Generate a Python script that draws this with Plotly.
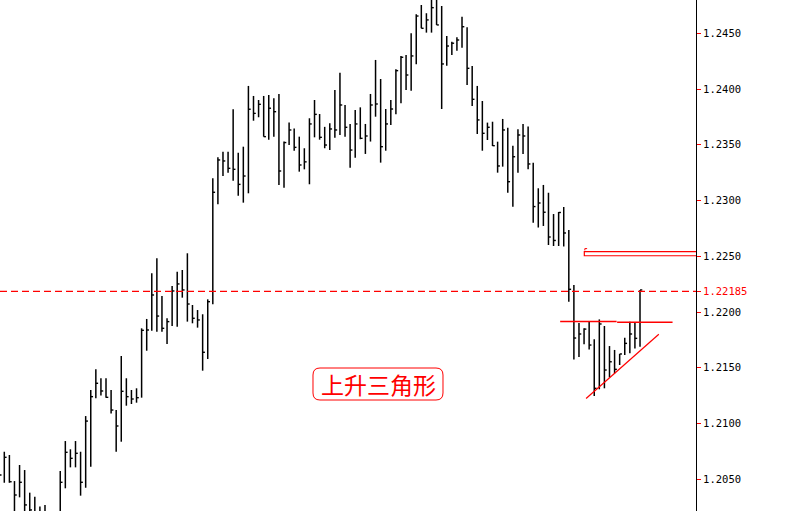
import plotly.graph_objects as go

# ---------------- data ----------------
bar_index = list(range(-1, 126))

highs = [1.20655,
 1.20747, 1.20718, 1.20484, 1.20628, 1.20583, 1.20380, 1.20344, 1.20255, 1.20270, 1.20180,
 1.20198, 1.20574, 1.20843, 1.20769, 1.20843, 1.20747, 1.21067, 1.21301, 1.21486, 1.21406,
 1.21406, 1.21301, 1.21121, 1.21606, 1.21406, 1.21301, 1.21316, 1.21854, 1.21938, 1.22348,
 1.22482, 1.22144, 1.21944, 1.22234, 1.22362, 1.22377, 1.22527, 1.22063, 1.22018, 1.21980,
 1.22114, 1.23200, 1.23388, 1.23438, 1.23438, 1.23819, 1.23429, 1.23483, 1.24028, 1.23938,
 1.23902, 1.23938, 1.23947, 1.23917, 1.23956, 1.23529, 1.23700, 1.23646, 1.23573, 1.23469,
 1.23738, 1.23902, 1.23776, 1.23661, 1.23693, 1.23992, 1.24147, 1.23857, 1.23687, 1.23812,
 1.23836, 1.23687, 1.23956, 1.24261, 1.24090, 1.23821, 1.23902, 1.24177, 1.24297, 1.24306,
 1.24500, 1.24671, 1.24754, 1.24680, 1.24817, 1.24817, 1.24745, 1.24476, 1.24425, 1.24464,
 1.24649, 1.24554, 1.24207, 1.24028, 1.23893, 1.23699, 1.23707, 1.23528, 1.23732, 1.23654,
 1.23492, 1.23639, 1.23687, 1.23663, 1.23340, 1.23110, 1.23140, 1.23070, 1.22879, 1.22897,
 1.22942, 1.22736, 1.22242, 1.21901, 1.21854, 1.21913, 1.21755, 1.21934, 1.21875, 1.21695,
 1.21660, 1.21624, 1.21770, 1.21913, 1.21904, 1.22198]

lows = [1.20404,
 1.20469, 1.20469, 1.20180, 1.20338, 1.20180, 1.20136, 1.20136, 1.20091, 1.20091, 1.20046,
 1.20046, 1.20207, 1.20419, 1.20607, 1.20607, 1.20353, 1.20424, 1.20613, 1.21226, 1.21251,
 1.21232, 1.21090, 1.20747, 1.20837, 1.21160, 1.21175, 1.21187, 1.21232, 1.21653, 1.21833,
 1.21824, 1.21824, 1.21713, 1.21875, 1.21868, 1.22129, 1.21914, 1.21899, 1.21860, 1.21474,
 1.21579, 1.22069, 1.22966, 1.23220, 1.23250, 1.23178, 1.23043, 1.22981, 1.23065, 1.23716,
 1.23747, 1.23573, 1.23546, 1.23573, 1.23140, 1.23115, 1.23498, 1.23446, 1.23259, 1.23280,
 1.23146, 1.23567, 1.23546, 1.23469, 1.23453, 1.23563, 1.23588, 1.23573, 1.23295, 1.23384,
 1.23550, 1.23418, 1.23529, 1.23752, 1.23340, 1.23447, 1.23678, 1.23774, 1.23872, 1.23992,
 1.23985, 1.24222, 1.24545, 1.24506, 1.24506, 1.24575, 1.23821, 1.24210, 1.24306, 1.24344,
 1.24371, 1.24037, 1.23848, 1.23597, 1.23447, 1.23543, 1.23489, 1.23250, 1.23304, 1.23070,
 1.22945, 1.23250, 1.23418, 1.23280, 1.22801, 1.22758, 1.22772, 1.22601, 1.22592, 1.22592,
 1.22588, 1.22093, 1.21575, 1.21596, 1.21710, 1.21665, 1.21247, 1.21307, 1.21316, 1.21414,
 1.21450, 1.21525, 1.21615, 1.21630, 1.21674, 1.21689]

closes = [1.20538,
 1.20697, 1.20478, 1.20359, 1.20473, 1.20270, 1.20225, 1.20207, 1.20180, 1.20180, 1.20136,
 1.20136, 1.20473, 1.20742, 1.20688, 1.20733, 1.20473, 1.21022, 1.21241, 1.21361, 1.21292,
 1.21235, 1.21121, 1.20978, 1.21289, 1.21241, 1.21220, 1.21232, 1.21836, 1.21839, 1.22153,
 1.21964, 1.21854, 1.21914, 1.22189, 1.22252, 1.22198, 1.22072, 1.21944, 1.21929, 1.21639,
 1.22093, 1.23074, 1.23364, 1.23355, 1.23289, 1.23280, 1.23145, 1.23220, 1.23819, 1.23782,
 1.23863, 1.23573, 1.23828, 1.23797, 1.23265, 1.23520, 1.23633, 1.23477, 1.23319, 1.23347,
 1.23687, 1.23773, 1.23567, 1.23498, 1.23642, 1.23633, 1.23857, 1.23657, 1.23453, 1.23687,
 1.23558, 1.23579, 1.23857, 1.23866, 1.23483, 1.23687, 1.23821, 1.24165, 1.24285, 1.24126,
 1.24297, 1.24655, 1.24545, 1.24620, 1.24730, 1.24575, 1.24225, 1.24386, 1.24411, 1.24440,
 1.24559, 1.24186, 1.23908, 1.23723, 1.23603, 1.23657, 1.23492, 1.23310, 1.23633, 1.23169,
 1.23393, 1.23588, 1.23579, 1.23328, 1.22946, 1.22978, 1.22895, 1.22673, 1.22642, 1.22893,
 1.22709, 1.22204, 1.21767, 1.21803, 1.21847, 1.21704, 1.21316, 1.21893, 1.21480, 1.21554,
 1.21486, 1.21624, 1.21719, 1.21803, 1.21764, 1.22198]

price_ticks = [1.2050, 1.2100, 1.2150, 1.2200, 1.2250, 1.2300, 1.2350, 1.2400, 1.2450]
current_price = 1.22185

# analyst drawings (data coordinates: bar index, price)
resistance_1 = [(109.3, 1.21915), (120.4, 1.21915)]
resistance_2 = [(120.5, 1.21908), (131.4, 1.21908)]
support_line = [(114.4, 1.21224), (128.7, 1.21801)]
zone_box = (114.05, 1.22505, 1.22541)
label_text = "上升三角形"

# ---------------- figure ----------------
bx, by = [], []
for i, h, l in zip(bar_index, highs, lows):
    bx += [i, i, None]
    by += [l, h, None]
cx, cy = [], []
for i, c in zip(bar_index, closes):
    cx += [i, i + 0.45, None]
    cy += [c, c, None]

fig = go.Figure()
fig.add_trace(go.Scatter(x=bx, y=by, mode="lines", line=dict(color="black", width=1.5),
                         hoverinfo="skip", showlegend=False))
fig.add_trace(go.Scatter(x=cx, y=cy, mode="lines", line=dict(color="black", width=1.4),
                         hoverinfo="skip", showlegend=False))

X0, X1 = -0.8455, 136.01
Y0, Y1 = 1.202155, 1.247987

shapes = []
shapes.append(dict(type="line", xref="paper", yref="y", x0=0, x1=1, y0=current_price, y1=current_price,
                   line=dict(color="#ff0000", width=1.4, dash="7px,4px")))
for seg in (resistance_1, resistance_2):
    shapes.append(dict(type="line", xref="x", yref="y", x0=seg[0][0], y0=seg[0][1], x1=seg[1][0], y1=seg[1][1],
                       line=dict(color="red", width=1.4)))
shapes.append(dict(type="line", xref="x", yref="y", x0=support_line[0][0], y0=support_line[0][1],
                   x1=support_line[1][0], y1=support_line[1][1], line=dict(color="red", width=1.2)))
shapes.append(dict(type="rect", xref="x", yref="y", x0=zone_box[0], x1=X1 + 1, y0=zone_box[1], y1=zone_box[2],
                   line=dict(color="red", width=1.2), fillcolor="rgba(0,0,0,0)"))
# small marker above the box
shapes.append(dict(type="path", xref="x", yref="y",
                   path=f"M {zone_box[0]+0.1},{zone_box[2]+0.00012} L {zone_box[0]+0.1},{zone_box[2]+0.00028} L {zone_box[0]+0.55},{zone_box[2]+0.00028}",
                   line=dict(color="red", width=1)))

# rounded label box (paper coordinates of the 696x511 plot area)
W, H = 696.0, 511.0
def P(px, py):
    return f"{px / W:.5f},{1 - py / H:.5f}"
L_, R_, T_, B_, r = 313, 443, 368, 400, 7
path = (f"M {P(L_ + r, T_)} L {P(R_ - r, T_)} Q {P(R_, T_)} {P(R_, T_ + r)} "
        f"L {P(R_, B_ - r)} Q {P(R_, B_)} {P(R_ - r, B_)} L {P(L_ + r, B_)} "
        f"Q {P(L_, B_)} {P(L_, B_ - r)} L {P(L_, T_ + r)} Q {P(L_, T_)} {P(L_ + r, T_)} Z")
shapes.append(dict(type="path", xref="paper", yref="paper", path=path,
                   line=dict(color="red", width=1), fillcolor="white", layer="above"))

fig.add_annotation(xref="paper", yref="paper", x=378 / W, y=1 - 384 / H, text=label_text,
                   xanchor="center", yanchor="middle",
                   showarrow=False, font=dict(family="Noto Sans CJK SC", size=23, color="red"))

tickvals = price_ticks + [current_price]
ticktext = [f"{v:.4f}" for v in price_ticks] + [f'<span style="color:red">{current_price:.5f}</span>']

fig.update_layout(
    width=796, height=511,
    margin=dict(l=0, r=100, t=0, b=0),
    paper_bgcolor="white", plot_bgcolor="white",
    shapes=shapes,
    showlegend=False,
    xaxis=dict(range=[X0, X1], visible=False, showgrid=False, zeroline=False),
    yaxis=dict(range=[Y0, Y1], side="right", showgrid=False, zeroline=False,
               showline=True, linecolor="black", linewidth=1,
               ticks="outside", ticklen=4, tickcolor="red", tickwidth=1,
               tickvals=tickvals, ticktext=ticktext,
               tickfont=dict(family="DejaVu Sans Mono", size=10.5, color="black")),
)

fig.write_html("out.html", config={"displayModeBar": False},
               post_script="document.body.style.margin='0';document.body.style.overflow='hidden';")
